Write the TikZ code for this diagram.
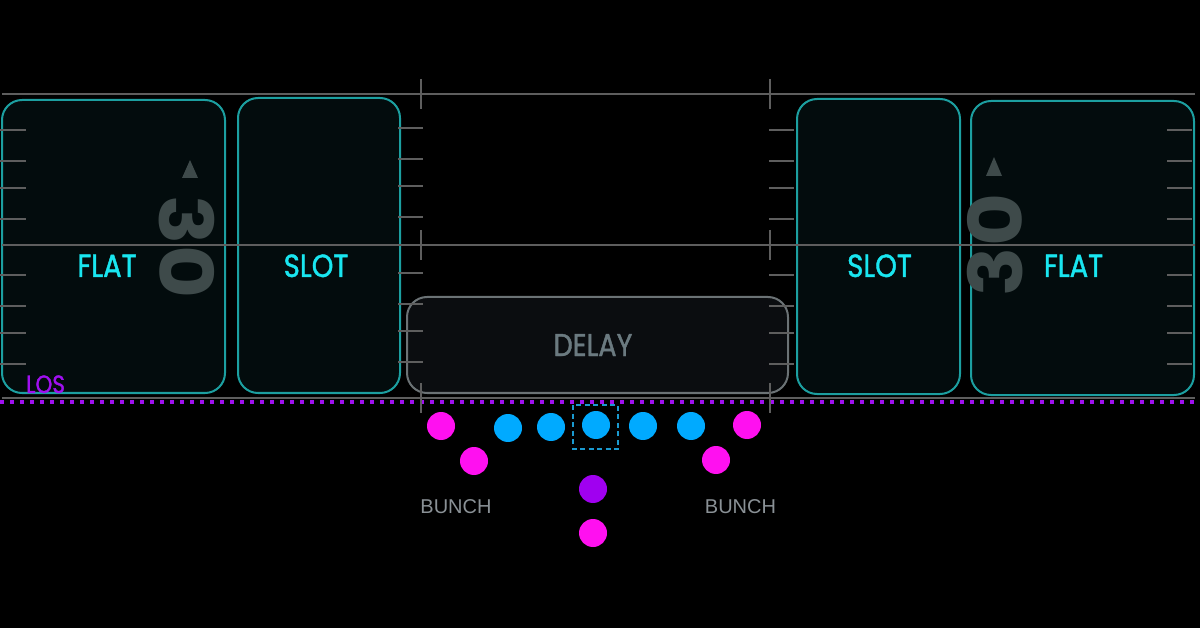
\documentclass[tikz,border=0pt]{standalone}
\usepackage{fontspec}
\setmainfont{Liberation Sans}
\newfontfamily\geo{Poppins}[FakeStretch=0.86, FakeBold=1.3]
\newfontfamily\numfont{Poppins}[FakeStretch=1.1]
\definecolor{zoneline}{HTML}{1C9FA0}
\definecolor{zonefill}{HTML}{030C0D}
\definecolor{zonetext}{HTML}{19E6F0}
\definecolor{gridline}{HTML}{5E5E5E}
\definecolor{delayline}{HTML}{6B7275}
\definecolor{delayfill}{HTML}{0B0D10}
\definecolor{delaytext}{HTML}{6B7A80}
\definecolor{bunchtext}{HTML}{8A9196}
\definecolor{lospurple}{HTML}{A010F0}
\definecolor{yardnum}{HTML}{3E4A4A}
\definecolor{pmag}{HTML}{FF10F0}
\definecolor{pblue}{HTML}{00AAFF}
\definecolor{ppurple}{HTML}{A000F0}
\definecolor{centerbox}{HTML}{1A9AD0}
\tikzset{
  zone/.style={draw=zoneline, fill=zonefill, line width=2pt, rounded corners=20pt, inner sep=0pt, outer sep=0pt},
  delaybox/.style={draw=delayline, fill=delayfill, line width=2pt, rounded corners=20pt, inner sep=0pt, outer sep=0pt},
  yardline/.style={draw=gridline, line width=2pt},
  hashline/.style={draw=gridline, line width=2pt},
  zonelabel/.style={text=zonetext, font=\geo\fontsize{32}{32}\selectfont, anchor=base, inner sep=0pt},
  delaylabel/.style={text=delaytext, font=\geo\fontsize{31.5}{31.5}\selectfont, anchor=base, inner sep=0pt},
  bunchlabel/.style={text=bunchtext, font=\fontsize{20}{20}\selectfont, anchor=base, inner sep=0pt},
  loslabel/.style={text=lospurple, font=\geo\fontsize{25}{25}\selectfont, anchor=base west, inner sep=0pt},
  yardnumber/.style={text=yardnum, font=\numfont\bfseries\fontsize{74}{74}\selectfont, inner sep=0pt},
  player/.style={circle, minimum size=28pt, inner sep=0pt, outer sep=0pt},
  mag/.style={player, fill=pmag},
  blu/.style={player, fill=pblue},
  pur/.style={player, fill=ppurple},
  losdots/.style={draw=lospurple, line width=4pt, dash pattern=on 4pt off 6pt},
}
\begin{document}
\begin{tikzpicture}[x=1pt, y=-1pt]
\fill[black] (0,0) rectangle (1200,628);
\useasboundingbox (0,0) rectangle (1200,628);

% zones
\node[zone, minimum width=223pt, minimum height=293pt] (flatL) at (113.5,246.5) {};
\node[zone, minimum width=162pt, minimum height=295pt] (slotL) at (319,245.5) {};
\node[zone, minimum width=163pt, minimum height=295pt] (slotR) at (878.5,246.5) {};
\node[zone, minimum width=223pt, minimum height=294pt] (flatR) at (1082.5,248) {};
\node[delaybox, minimum width=381pt, minimum height=96pt] (delay) at (597.5,345) {};

% yard numbers
\node[yardnumber, rotate=-90] (numL) at (187,247) {30};
\node[yardnumber, rotate=90] (numR) at (995,245) {30};
\fill[yardnum] (190,160) -- (198,178) -- (182,178) -- cycle;
\fill[yardnum] (994,157) -- (1002,176) -- (986,176) -- cycle;

% yard lines
\coordinate (t1) at (2,94); \coordinate (t2) at (1195,94);
\coordinate (m1) at (2,245); \coordinate (m2) at (1195,245);
\coordinate (b1) at (2,398); \coordinate (b2) at (1195,398);
\draw[yardline] (t1) -- (t2);
\draw[yardline] (m1) -- (m2);
\draw[yardline] (b1) -- (b2);
\coordinate (l1) at (0,401.5); \coordinate (l2) at (1200,401.5);
\draw[losdots] (l1) -- (l2);

% hash marks
\foreach \x in {421,770}{
  \draw[hashline] (\x,79) -- (\x,109);
  \draw[hashline] (\x,230) -- (\x,260);
  \draw[hashline] (\x,383) -- (\x,413);
}
% ticks
\foreach \y in {130,161,188,219,275,306,333,364}{
  \draw[hashline] (0,\y) -- (26,\y);
  \draw[hashline] (769,\y) -- (794,\y);
  \draw[hashline] (1167,\y) -- (1192,\y);
}
\foreach \y in {128,159,186,217,273,304,331,362}{
  \draw[hashline] (398,\y) -- (423,\y);
}

% labels
\node[zonelabel] (tFlatL) at (107,277) {FLAT};
\node[zonelabel] (tSlotL) at (316,277) {SLOT};
\node[zonelabel] (tSlotR) at (879.5,277) {SLOT};
\node[zonelabel] (tFlatR) at (1073.5,277) {FLAT};
\node[delaylabel] (tDelay) at (593,356) {DELAY};
\node[loslabel] (tLos) at (26,393) {LOS};
\node[bunchlabel] (tBunchL) at (456,513) {BUNCH};
\node[bunchlabel] (tBunchR) at (740.5,513) {BUNCH};

% center box
\draw[centerbox, line width=1.5pt, dash pattern=on 5pt off 3.5pt] (573,405) rectangle (618,449);

% players
\node[mag] (p1) at (441,426) {};
\node[mag] (p2) at (474,461) {};
\node[blu] (p3) at (508,428) {};
\node[blu] (p4) at (551,427) {};
\node[blu] (p5) at (596,425) {};
\node[blu] (p6) at (643,426) {};
\node[blu] (p7) at (691,426) {};
\node[mag] (p8) at (747,425) {};
\node[mag] (p9) at (716,460) {};
\node[pur] (p10) at (593,489) {};
\node[mag] (p11) at (593,533) {};
\end{tikzpicture}
\end{document}
